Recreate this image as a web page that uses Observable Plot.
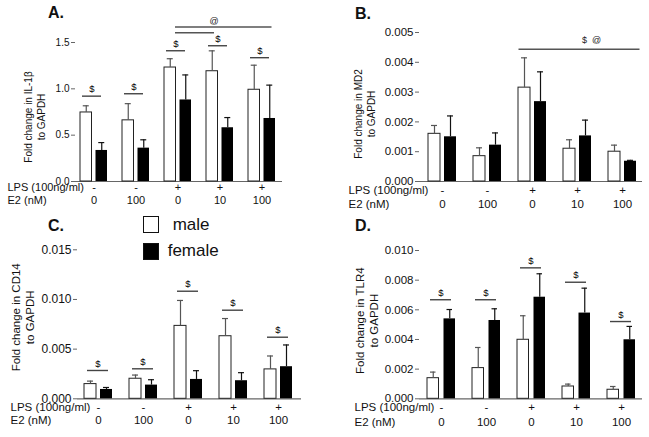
<!DOCTYPE html>
<html><head><meta charset="utf-8">
<script src="https://cdn.jsdelivr.net/npm/d3@7"></script>
<script src="https://cdn.jsdelivr.net/npm/@observablehq/plot@0.6"></script>
<style>
body{margin:0;background:#fff;font-family:"Liberation Sans",Arial,sans-serif;}
#root{position:relative;width:649px;height:437px;overflow:hidden;background:#fff;}
.panel{position:absolute;}
.ttl{position:absolute;font-weight:bold;font-size:16px;line-height:16px;color:#111;}
.sw{position:absolute;box-sizing:border-box;width:16px;height:17px;}
.lg{position:absolute;font-size:17px;line-height:17px;color:#111;}
</style></head><body><div id="root"></div>
<script>
// ---------- shared categories ----------
const groups = ["-|0", "-|100", "+|0", "+|10", "+|100"];
const lpsLabels = ["-", "-", "+", "+", "+"];
const e2Labels = ["0", "100", "0", "10", "100"];
const sexes = ["male", "female"];
const lpsTitle = "LPS (100ng/ml)";
const e2Title = "E2 (nM)";

// ---------- A: IL-1β ----------
const il1bMale = [0.745, 0.66, 1.23, 1.19, 0.99];
const il1bMaleSem = [0.072, 0.18, 0.095, 0.22, 0.265];
const il1bFemale = [0.335, 0.36, 0.88, 0.58, 0.68];
const il1bFemaleSem = [0.085, 0.09, 0.27, 0.11, 0.36];
const il1bSig = [0.921, 0.947, 1.411, 1.465, 1.336];
const il1bTicks = [0, 0.5, 1.0, 1.5];

// ---------- B: MD2 ----------
const md2Male = [0.0016, 0.00085, 0.00315, 0.0011, 0.001];
const md2MaleSem = [0.00028, 0.00028, 0.001, 0.0003, 0.00022];
const md2Female = [0.0015, 0.00122, 0.00268, 0.00153, 0.00068];
const md2FemaleSem = [0.0007, 0.00041, 0.001, 0.00053, 0.00003];
const md2Ticks = [0, 0.001, 0.002, 0.003, 0.004, 0.005];

// ---------- C: CD14 ----------
const cd14Male = [0.00148, 0.00202, 0.00734, 0.0063, 0.00296];
const cd14MaleSem = [0.0003, 0.00037, 0.00256, 0.00178, 0.00135];
const cd14Female = [0.00094, 0.00138, 0.00195, 0.00182, 0.00323];
const cd14FemaleSem = [0.0002, 0.00054, 0.00088, 0.00081, 0.00219];
const cd14Sig = [0.00285, 0.00302, 0.01083, 0.00892, 0.0062];
const cd14Ticks = [0, 0.005, 0.010, 0.015];

// ---------- D: TLR4 ----------
const tlr4Male = [0.00139, 0.00207, 0.00398, 0.00083, 0.00061];
const tlr4MaleSem = [0.00041, 0.00139, 0.00162, 0.00016, 0.00022];
const tlr4Female = [0.00539, 0.00528, 0.00685, 0.00578, 0.00398];
const tlr4FemaleSem = [0.00063, 0.00079, 0.00158, 0.00168, 0.0009];
const tlr4Sig = [0.00668, 0.00668, 0.00883, 0.00786, 0.00521];
const tlr4Ticks = [0, 0.002, 0.004, 0.006, 0.008, 0.010];

// ---------- spanning significance annotations ----------
const il1bSpans = [
  {from: "+|0", to: "+|100", y: 1.666},
  {from: "+|0", to: "+|10", y: 1.606}
];
const il1bSpanLabel = [{group: "+|10", y: 1.666, label: "@"}];
const md2Spans = [{from: "+|0", to: "+|100", y: 0.00444}];
const md2SpanLabel = [{group: "+|10", y: 0.00444, label: "$  @"}];

const FONT = "'Liberation Sans', Arial, Helvetica, sans-serif";

function panel(cfg) {
  const L = cfg.layout;
  const rows = groups.map((g, i) => ({
    group: g, lps: lpsLabels[i], e2: e2Labels[i],
    male: cfg.male[i], maleTop: cfg.male[i] + cfg.maleSem[i],
    female: cfg.female[i], femaleTop: cfg.female[i] + cfg.femaleSem[i],
    sig: cfg.sig ? cfg.sig[i] : null
  }));
  const b = L.band, w = L.barW, off = (b - w) / 2, cap = 3;
  const sigRows = rows.filter(d => d.sig != null);
  const marks = [
    Plot.ruleY([0], {stroke: "#666", strokeWidth: 1.2}),
    Plot.axisY({ticks: cfg.ticks, tickFormat: cfg.fmt, tickSize: 4, tickPadding: 2, line: true,
      stroke: "#666", fill: "#111", fontSize: L.tickFont, label: null}),
    Plot.barY(rows, {x: "group", y: "male", fill: "white", stroke: "#222", strokeWidth: 1, insetRight: b - w}),
    Plot.barY(rows, {x: "group", y: "female", fill: "#000", insetLeft: b - w}),
    Plot.ruleX(rows, {x: "group", y1: "male", y2: "maleTop", dx: -off, stroke: "#555", strokeWidth: 1.2}),
    Plot.tickY(rows, {x: "group", y: "maleTop", insetLeft: w / 2 - cap, insetRight: b - w / 2 - cap, stroke: "#555", strokeWidth: 1.2}),
    Plot.ruleX(rows, {x: "group", y1: "female", y2: "femaleTop", dx: off, stroke: "#111", strokeWidth: 1.2}),
    Plot.tickY(rows, {x: "group", y: "femaleTop", insetLeft: b - w / 2 - cap, insetRight: w / 2 - cap, stroke: "#111", strokeWidth: 1.2}),
    Plot.tickY(sigRows, {x: "group", y: "sig", insetLeft: L.sigL, insetRight: L.sigR, stroke: "#444", strokeWidth: 1.4}),
    Plot.text(sigRows, {x: "group", y: "sig", text: () => "$", dx: (L.sigL - L.sigR) / 2, dy: -7, fontSize: 9.5, fill: "#000"}),
    Plot.text(rows, {x: "group", text: "lps", frameAnchor: "bottom", dy: L.row1, fontSize: L.rowFont, fill: "#111"}),
    Plot.text(rows, {x: "group", text: "e2", frameAnchor: "bottom", dy: L.row2, fontSize: L.rowFont, fill: "#111"}),
    Plot.text([lpsTitle], {text: d => d, frameAnchor: "bottom-left", textAnchor: "start", dx: L.rowLabelX - L.ml, dy: L.row1, fontSize: L.rowFont, fill: "#111"}),
    Plot.text([e2Title], {text: d => d, frameAnchor: "bottom-left", textAnchor: "start", dx: L.rowLabelX - L.ml, dy: L.row2, fontSize: L.rowFont, fill: "#111"}),
    Plot.text([cfg.ylabel], {text: d => d, frameAnchor: "left", textAnchor: "middle", lineAnchor: "middle", rotate: -90, dx: L.ylabDx, dy: L.ylabDy, fontSize: L.ylabFont, lineHeight: 1.25, fill: "#111"}),
    ...(cfg.extra ? cfg.extra(L) : [])
  ];
  return Plot.plot({
    width: L.width, height: L.height,
    marginLeft: L.ml, marginRight: L.mr, marginTop: L.mt, marginBottom: L.mb,
    style: {fontFamily: FONT, background: "transparent", overflow: "visible"},
    x: {type: "band", domain: groups, paddingInner: L.pi, paddingOuter: L.po, align: L.align, axis: null},
    y: {domain: cfg.domain, axis: null},
    marks
  });
}

const root = document.getElementById("root");
function place(node, left, top) {
  const d = document.createElement("div");
  d.className = "panel"; d.style.left = left + "px"; d.style.top = top + "px";
  d.appendChild(node); root.appendChild(d);
}
function title(t, left, top) {
  const d = document.createElement("div");
  d.className = "ttl"; d.textContent = t; d.style.left = left + "px"; d.style.top = top + "px";
  root.appendChild(d);
}

// A
place(panel({
  male: il1bMale, maleSem: il1bMaleSem, female: il1bFemale, femaleSem: il1bFemaleSem,
  sig: il1bSig, ticks: il1bTicks, fmt: ".1f", domain: [0, 1.5],
  ylabel: "Fold change in IL-1β\nto GAPDH",
  layout: {width: 320, height: 210, ml: 75, mr: 38, mt: 42, mb: 29, band: 27, barW: 11.5,
    pi: 0.365, po: 0.118, align: 0.4, tickFont: 10, rowFont: 11, row1: 9, row2: 22, rowLabelX: 7,
    ylabFont: 10, ylabDx: -41, ylabDy: 5, sigL: 2, sigR: 6},
  extra: (L) => [
    Plot.ruleY(il1bSpans.filter(d => d.to === "+|100"), {x1: "from", x2: "to", y: "y", insetLeft: 11, insetRight: 3.5, stroke: "#555", strokeWidth: 1.5}),
    Plot.ruleY(il1bSpans.filter(d => d.to === "+|10"), {x1: "from", x2: "to", y: "y", insetLeft: 11, insetRight: 19, stroke: "#555", strokeWidth: 1.5}),
    Plot.text(il1bSpanLabel, {x: "group", y: "y", text: "label", dx: -6, dy: -6, fontSize: 9, fill: "#222"})
  ]
}), 0, 0);

// B
place(panel({
  male: md2Male, maleSem: md2MaleSem, female: md2Female, femaleSem: md2FemaleSem,
  sig: null, ticks: md2Ticks, fmt: ".3f", domain: [0, 0.005],
  ylabel: "Fold change in MD2\nto GAPDH",
  layout: {width: 329, height: 210, ml: 99, mr: 7, mt: 32, mb: 29, band: 28, barW: 12,
    pi: 0.385, po: 0.143, align: 0.577, tickFont: 11.5, rowFont: 11.5, row1: 12, row2: 26, rowLabelX: 28,
    ylabFont: 10, ylabDx: -55, ylabDy: 7, sigL: 3, sigR: 4},
  extra: (L) => [
    Plot.ruleY(md2Spans, {x1: "from", x2: "to", y: "y", insetLeft: 0.5, insetRight: -3.5, stroke: "#555", strokeWidth: 1.5}),
    Plot.text(md2SpanLabel, {x: "group", y: "y", text: "label", dx: 14, dy: -9, fontSize: 9, fill: "#222"})
  ]
}), 320, 0);

// C
place(panel({
  male: cd14Male, maleSem: cd14MaleSem, female: cd14Female, femaleSem: cd14FemaleSem,
  sig: cd14Sig, ticks: cd14Ticks, fmt: ".3f", domain: [0, 0.015],
  ylabel: "Fold change in CD14\nto GAPDH",
  layout: {width: 320, height: 227, ml: 77, mr: 19, mt: 39.3, mb: 38.7, band: 28, barW: 12,
    pi: 0.3795, po: 0.1717, align: 0.42, tickFont: 12, rowFont: 11.5, row1: 12, row2: 25, rowLabelX: 10,
    ylabFont: 11.5, ylabDx: -55, ylabDy: -7, sigL: 3, sigR: 4}
}), 0, 210);

// D
place(panel({
  male: tlr4Male, maleSem: tlr4MaleSem, female: tlr4Female, femaleSem: tlr4FemaleSem,
  sig: tlr4Sig, ticks: tlr4Ticks, fmt: ".3f", domain: [0, 0.010],
  ylabel: "Fold change in TLR4\nto GAPDH",
  layout: {width: 329, height: 227, ml: 99, mr: 7, mt: 40, mb: 38.7, band: 28.5, barW: 12,
    pi: 0.3684, po: 0.155, align: 0.554, tickFont: 11.5, rowFont: 11.5, row1: 12.5, row2: 27, rowLabelX: 34,
    ylabFont: 11.5, ylabDx: -53, ylabDy: -4, sigL: 3, sigR: 4}
}), 320, 210);

title("A.", 48, 5);
title("B.", 355, 6);
title("C.", 48, 218);
title("D.", 355, 218);

// legend
const legendItems = [
  {label: sexes[0], fill: "#fff", swTop: 216, txtLeft: 172.7, txtTop: 215.6},
  {label: sexes[1], fill: "#000", swTop: 242.7, txtLeft: 167.7, txtTop: 242.3}
];
for (const it of legendItems) {
  const s = document.createElement("div");
  s.className = "sw"; s.style.left = "143.3px"; s.style.top = it.swTop + "px";
  s.style.background = it.fill; s.style.border = "1.5px solid #111";
  root.appendChild(s);
  const t = document.createElement("div");
  t.className = "lg"; t.textContent = it.label; t.style.left = it.txtLeft + "px"; t.style.top = it.txtTop + "px";
  root.appendChild(t);
}
</script></body></html>
